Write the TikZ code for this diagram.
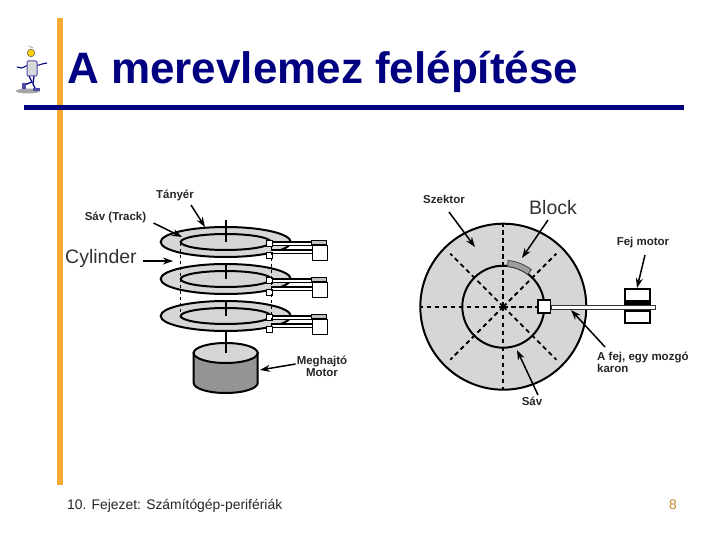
\documentclass[tikz,border=0pt]{standalone}
\usepackage{fontspec}
\setmainfont{Liberation Sans}
\usepackage{xcolor}
\usetikzlibrary{positioning, arrows.meta, shapes.geometric, calc}

\definecolor{navytitle}{RGB}{0,0,128}
\definecolor{orangebar}{RGB}{245,170,50}
\definecolor{platter}{gray}{0.84}

\begin{document}
\begin{tikzpicture}[
    x=1pt, y=-1pt,
    >=Stealth,
    lbl/.style={font=\fontsize{11.5}{12}\selectfont\bfseries, text=black!85, align=center, inner sep=0pt},
    biglbl/.style={font=\fontsize{19.5}{21}\selectfont, text=black!80, inner sep=0pt},
    arr/.style={-{Stealth[length=10pt,width=7pt]}, draw=black, line width=1.5pt},
    disc/.style={ellipse, draw=black, line width=2pt, inner sep=0pt, fill=platter},
    outerdisc/.style={disc, minimum width=130pt, minimum height=30pt},
    innerdisc/.style={disc, minimum width=90pt, minimum height=16pt},
    headbox/.style={draw=black, fill=white, line width=0.8pt, inner sep=0pt, minimum width=6pt, minimum height=6pt},
    armline/.style={draw=black, line width=1.1pt},
    spindle/.style={draw=black, line width=1.7pt},
    cyl/.style={draw=black, line width=0.8pt, dash pattern=on 3pt off 3pt},
    sector/.style={draw=black, line width=1.8pt, dash pattern=on 4.5pt off 3.5pt},
]
\useasboundingbox (0,0) rectangle (720,540);

% Slide frame
\fill[orangebar] (57,18) rectangle (63,485);
\fill[navytitle] (24,105) rectangle (684,110.5);
\node[anchor=base west, inner sep=0pt, text=navytitle, font=\fontsize{44}{46}\selectfont\bfseries] (title) at (67,84) {A merevlemez felépítése};
\node[anchor=base west, inner sep=0pt, text=black!85, font=\fontsize{13.9}{15}\selectfont] (footer) at (67,509) {10. Fejezet: Számítógép-perifériák};
\node[anchor=base, inner sep=0pt, text=orangebar!80!black, font=\fontsize{13.9}{15}\selectfont] (pagenum) at (673,509) {8};

% Little figure next to the title
\fill[black!35] (28,91) ellipse (12 and 2.5);
\draw[navytitle, line width=1.1pt] (28,65) -- (22,68) -- (17,67);
\draw[navytitle, line width=1.1pt] (36,66) -- (42,64) -- (47,63);
\draw[navytitle, line width=1.3pt] (29,76) -- (32,82) -- (24,85);
\draw[navytitle, line width=1.3pt] (34,76) -- (33,84) -- (36,90);
\fill[navytitle!70] (21.5,83) rectangle (25.5,89);
\fill[navytitle!70] (33,88) rectangle (40,91);
\draw[navytitle!70, fill=black!15, line width=1pt, rounded corners=1pt] (27,61) rectangle (37,76);
\fill[yellow!70!orange] (31,53) circle (3.8);
\draw[black!60, line width=0.6pt] (31,53) circle (3.8);
\draw[black!50, line width=0.6pt] (29,46) -- (33,48);

% Motor
\draw[draw=black, line width=2pt, fill=black!42] (193.7,353) -- (193.7,383) arc[start angle=180, end angle=0, x radius=32, y radius=10] -- (257.7,353) -- cycle;
\node[disc, minimum width=64pt, minimum height=20pt] (motortop) at (225.7,353) {};

% Platters with heads
\foreach \name/\y in {a/242, b/279, c/316} {
    \node[outerdisc] (outer\name) at (225.7,\y) {};
    \node[innerdisc] (inner\name) at (225.7,\y) {};
    \draw[armline] (271,\y) -- (316,\y);
    \draw[armline] (271,\y+3) -- (316,\y+3);
    \draw[armline] (271,\y+8) -- (316,\y+8);
    \draw[armline] (271,\y+11) -- (316,\y+11);
    \fill[white] (271,\y+0.5) rectangle (312,\y+2.5);
    \fill[white] (271,\y+8.5) rectangle (312,\y+10.5);
    \node[headbox] (heada\name) at (269.5,\y+1) {};
    \node[headbox] (headb\name) at (269.5,\y+13) {};
    \node[draw=black, line width=0.8pt, fill=black!25, inner sep=0pt, minimum width=15pt, minimum height=4pt] (capbox\name) at (319,\y+0) {};
    \node[draw=black, line width=1.7pt, fill=white, inner sep=0pt, minimum width=15pt, minimum height=15pt] (actbox\name) at (320,\y+11) {};
}

% Dashed cylinder edges
\draw[cyl] (180,243) -- (180,318);
\draw[cyl] (271,246) -- (271,326);

% Spindle pieces
\draw[spindle] (225.7,220) -- (outera.center);
\draw[spindle] (225.7,263) -- (outerb.center);
\draw[spindle] (225.7,300) -- (outerc.center);
\draw[spindle] (225.7,332) -- (motortop.center);

% Left labels
\node[lbl] (tanyer) at (175,195) {Tányér};
\node[lbl] (savtrack) at (115.5,217) {Sáv (Track)};
\node[biglbl, anchor=west] (cylinder) at (65,258.5) {Cylinder};
\node[lbl] (meghajto) at (322,366) {Meghajtó\\Motor};
\coordinate (tanyerend) at (205,227);
\coordinate (savend) at (182,237);
\coordinate (cylend) at (173,261);
\coordinate (motorend) at (260,370);
\draw[arr] ([shift={(16,10)}]tanyer.center) -- (tanyerend);
\draw[arr] ([shift={(38,6)}]savtrack.center) -- (savend);
\draw[arr] ([xshift=6pt]cylinder.east |- cylend) -- (cylend);
\draw[arr] ([shift={(-1,-2)}]meghajto.west) -- (motorend);

% Right disc
\node[circle, draw=black, fill=platter, line width=2pt, minimum size=166pt, inner sep=0pt] (bigdisc) at (503.3,306.7) {};
\foreach \ang/\len in {0/83, 90/83, 180/83, 270/83, 45/75, 135/75, 225/75, 315/75} {
    \draw[sector] (bigdisc.center) -- ++(\ang:\len);
}
\node[circle, draw=black, line width=2pt, minimum size=82pt, inner sep=0pt] (trackring) at (503.3,306.7) {};
\fill[black] (bigdisc.center) circle (2.2);

% Block on the track
\draw[draw=black!75, fill=black!38, line width=0.8pt]
    ($(bigdisc.center)+(4.86,-46.2)$)
    arc[start angle=-84, end angle=-53, radius=46.5]
    -- ($(bigdisc.center)+(24.4,-32.3)$)
    arc[start angle=-53, end angle=-84, radius=40.5] -- cycle;

% Head arm and its motor
\node[draw=black, fill=white, line width=1.7pt, inner sep=0pt, minimum width=25pt, minimum height=12.5pt] (fejtop) at (637.8,295) {};
\node[draw=black, fill=white, line width=1.7pt, inner sep=0pt, minimum width=25pt, minimum height=12.5pt] (fejbot) at (637.8,317) {};
\fill[black] (fejtop.south west) rectangle ([yshift=-4pt]fejtop.south east);
\fill[black] (fejbot.north west) rectangle ([yshift=4pt]fejbot.north east);
\fill[white, draw=black!80, line width=1pt] (551,305.3) rectangle (655,309);
\node[draw=black, fill=white, line width=1.7pt, inner sep=0pt, minimum size=12.5pt] (fejbox) at (544.3,306.5) {};

% Right labels
\node[lbl] (szektor) at (444,199) {Szektor};
\node[biglbl] (block) at (553,208) {Block};
\node[lbl] (fejmotor) at (643,243) {Fej motor};
\node[lbl, align=left, anchor=north west] (fejkaron) at (597,352) {A fej, egy mozgó\\karon};
\node[lbl] (sav) at (532,401) {Sáv};
\coordinate (szektorend) at (475,247);
\coordinate (blockend) at (522,258);
\coordinate (fejmotorend) at (637,288);
\coordinate (fejkaronend) at (571,310);
\coordinate (savend2) at (517,350);
\draw[arr] ([shift={(5,13)}]szektor.center) -- (szektorend);
\draw[arr] ([shift={(-5,12)}]block.center) -- (blockend);
\draw[arr] ([shift={(2,12)}]fejmotor.center) -- (fejmotorend);
\draw[arr] ([shift={(8,-5)}]fejkaron.north west) -- (fejkaronend);
\draw[arr] ([shift={(6,-6)}]sav.center) -- (savend2);

\end{tikzpicture}
\end{document}
